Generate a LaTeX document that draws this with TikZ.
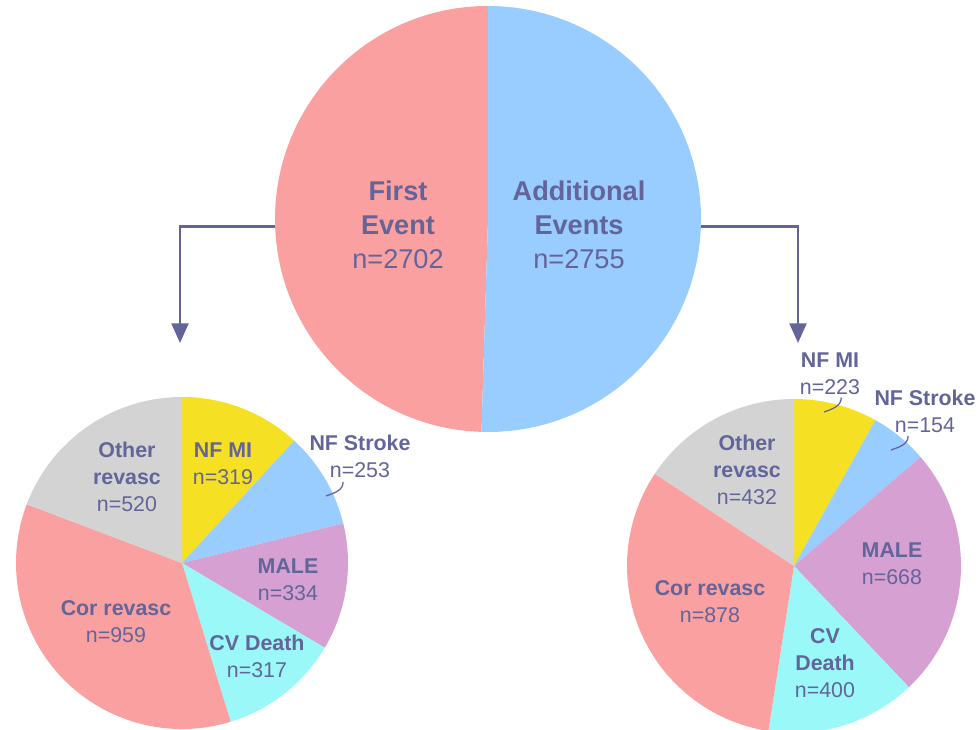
\documentclass[tikz,border=0pt]{standalone}
\usepackage{fontspec}
\setmainfont{Liberation Sans}
\usetikzlibrary{arrows.meta}

\definecolor{labelblue}{HTML}{636499}
\definecolor{slicepink}{HTML}{FAA0A0}
\definecolor{sliceblue}{HTML}{99CCFF}
\definecolor{sliceyellow}{HTML}{F6E024}
\definecolor{slicemauve}{HTML}{D6A0D2}
\definecolor{slicecyan}{HTML}{9AF8F8}
\definecolor{slicegrey}{HTML}{D3D3D3}

% pie slice: centre, radius, start angle, end angle, colour
\newcommand{\pieslice}[5]{%
  \fill[#5] (#1) -- ++(#3:#2) arc[start angle=#3, end angle=#4, radius=#2] -- cycle;}

\begin{document}
\begin{tikzpicture}[x=0.025cm, y=0.025cm,
    lbl/.style={text=labelblue, align=center, inner sep=0pt,
      font=\fontsize{15.2pt}{19.2pt}\selectfont},
    biglbl/.style={text=labelblue, align=center, inner sep=0pt,
      font=\fontsize{19.3pt}{24pt}\selectfont},
    flow/.style={draw=labelblue, line width=1.9pt, -{Triangle[width=12pt,length=14pt]}},
    leader/.style={draw=labelblue, line width=0.9pt}]
      \useasboundingbox (0,0) rectangle (978,729);

      \coordinate (T) at (488,510);
      \coordinate (L) at (182,166);
      \coordinate (R) at (794,163);

      % all events
      \pieslice{T}{213}{90}{268.24}{slicepink}
      \pieslice{T}{213}{268.24}{450}{sliceblue}
      \node[circle, minimum size=10.65cm, inner sep=0pt] (allev) at (T) {};
      \node[biglbl] (firstlbl) at (398,504) {\textbf{First}\\\textbf{Event}\\n=2702};
      \node[biglbl] (addlbl) at (579,504) {\textbf{Additional}\\\textbf{Events}\\n=2755};

      % first event pie
      \pieslice{L}{166}{90}{47.50}{sliceyellow}
      \pieslice{L}{166}{47.50}{13.79}{sliceblue}
      \pieslice{L}{166}{13.79}{-30.71}{slicemauve}
      \pieslice{L}{166}{-30.71}{-72.95}{slicecyan}
      \pieslice{L}{166}{-72.95}{-200.72}{slicepink}
      \pieslice{L}{166}{-200.72}{-270}{slicegrey}

      % additional events pie
      \pieslice{R}{167}{90}{60.86}{sliceyellow}
      \pieslice{R}{167}{60.86}{40.74}{sliceblue}
      \pieslice{R}{167}{40.74}{-46.55}{slicemauve}
      \pieslice{R}{167}{-46.55}{-98.82}{slicecyan}
      \pieslice{R}{167}{-98.82}{-213.55}{slicepink}
      \pieslice{R}{167}{-213.55}{-270}{slicegrey}

      % labels of first event pie
      \node[lbl] (otherL) at (127,252) {\textbf{Other}\\\textbf{revasc}\\n=520};
      \node[lbl] (miL) at (223,265.5) {\textbf{NF MI}\\n=319};
      \node[lbl] (strokeL) at (360,273) {\textbf{NF Stroke}\\n=253};
      \node[lbl] (maleL) at (288,149) {\textbf{MALE}\\n=334};
      \node[lbl] (cvL) at (257,72.5) {\textbf{CV Death}\\n=317};
      \node[lbl] (corL) at (116,107.5) {\textbf{Cor revasc}\\n=959};

      % labels of additional events pie
      \node[lbl] (otherR) at (747,259) {\textbf{Other}\\\textbf{revasc}\\n=432};
      \node[lbl] (miR) at (830,355.5) {\textbf{NF MI}\\n=223};
      \node[lbl] (strokeR) at (925,317.5) {\textbf{NF Stroke}\\n=154};
      \node[lbl] (maleR) at (892,165) {\textbf{MALE}\\n=668};
      \node[lbl] (corR) at (710,127.5) {\textbf{Cor revasc}\\n=878};
      \node[lbl] (cvR) at (825,66) {\textbf{CV}\\\textbf{Death}\\n=400};

      % leader lines
      \coordinate (strokeLtip) at (326,233);
      \coordinate (miRtip) at (824,317);
      \coordinate (strokeRtip) at (891,279);
      \draw[leader] ([xshift=-12pt,yshift=-3pt]strokeL.south) to[out=-90,in=20] (strokeLtip);
      \draw[leader] ([xshift=8pt,yshift=-2pt]miR.south) to[out=-90,in=20] (miRtip);
      \draw[leader] ([xshift=-12pt,yshift=-2pt]strokeR.south) to[out=-90,in=20] (strokeRtip);

      % arrows down to the two pies
      \coordinate (firstend) at (180,386);
      \coordinate (addend) at (798,386);
      \draw[flow] (allev.182) -| (firstend);
      \draw[flow] (allev.-2) -| (addend);

    \end{tikzpicture}
\end{document}
